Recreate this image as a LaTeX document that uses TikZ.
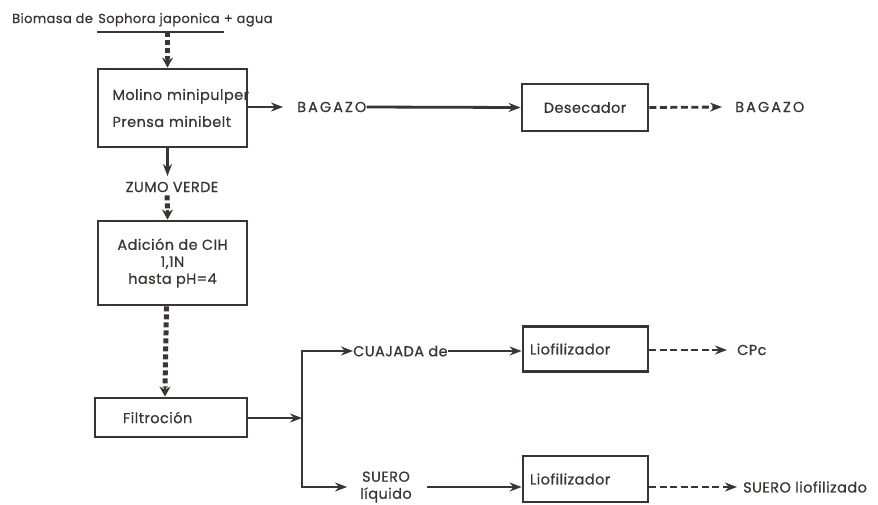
\documentclass[tikz,border=0pt]{standalone}
\usepackage{fontspec}
\setmainfont{Poppins}[LetterSpace=3,FakeBold=0.6]
\usetikzlibrary{arrows.meta,positioning}
\definecolor{ink}{HTML}{3A3432}

\begin{document}
\begin{tikzpicture}[x=1pt,y=-1pt,
  every node/.style={text=ink},
  txt/.style={inner sep=0pt, font=\fontsize{14.5}{17}\selectfont},
  head/.style={inner sep=0pt, font=\fontsize{13}{15}\selectfont},
  wide/.style={txt, font=\fontsize{14.5}{17}\selectfont\addfontfeatures{LetterSpace=14}},
  procbox/.style={draw=ink, line width=2.8pt, rectangle, inner sep=0pt,
    font=\fontsize{14.5}{17}\selectfont},
  flow/.style={draw=ink, line width=2.8pt, -{Stealth[length=12pt,width=9pt]}},
  dflow/.style={flow, dash pattern=on 7pt off 3.5pt},
  chain/.style={draw=ink, line width=5pt, dash pattern=on 5pt off 3pt},
  chainhead/.style={draw=ink, line width=2.8pt, -{Stealth[length=10pt,width=11pt]}}]

\useasboundingbox (0,0) rectangle (878,504);

% feed line
\node[head, anchor=base west] (bio) at (12,23) {Biomasa de};
\node[head, anchor=base west] (sj) at ([xshift=5pt]bio.base east) {Sophora japonica};
\node[head, anchor=base west] (agua) at ([xshift=4pt]sj.base east) {+ agua};
\draw[ink, line width=2.4pt] ([xshift=-1pt]sj.west |- 0,32) coordinate (ulA)
  -- ([xshift=4pt]sj.east |- 0,32) coordinate (ulB);

% process boxes
\node[procbox, minimum width=149pt, minimum height=78pt, text width=134pt, align=left]
  (molino) at (172.5,108) {\hspace*{7pt}\mbox{Molino minipulper}\\[10pt]\hspace*{7pt}\mbox{Prensa minibelt}};
\node[txt] (zumo) at (172,187) {ZUMO VERDE};
\node[procbox, minimum width=149pt, minimum height=84pt, align=center]
  (acido) at (172.5,263) {Adición de CIH\\1,1N\\hasta pH=4};
\node[procbox, minimum width=152pt, minimum height=39pt, text width=96pt, align=left]
  (filtro) at (171,417.5) {Filtroción};

% bagazo branch
\node[wide, anchor=west] (bag1) at (297,107) {BAGAZO};
\node[procbox, minimum width=126pt, minimum height=47pt] (desec) at (585,107.5) {Desecador};
\node[wide, anchor=west] (bag2) at (735,107) {BAGAZO};

% curd branch
\node[txt, anchor=west] (cuaj) at (353,351) {CUAJADA de};
\node[procbox, minimum width=125pt, minimum height=45pt, text width=111pt, align=left]
  (lio1) at (585.5,349) {\mbox{Liofilizador}};
\node[txt, anchor=west] (cpc) at (737,350) {CPc};

% whey branch
\node[txt, align=center] (suero) at (386,487) {SUERO\\líquido};
\node[procbox, minimum width=125pt, minimum height=46pt, text width=111pt, align=left]
  (lio2) at (585.5,479) {\mbox{Liofilizador}};
\node[txt, anchor=west] (suerol) at (743,487) {SUERO liofilizado};

\coordinate (split) at (302,418);
\coordinate (splitT) at (302,351);
\coordinate (splitB) at (302,487);

% main stream
\draw[chain] ([xshift=-5pt]molino.north |- ulA) -- ([xshift=-5pt,yshift=9pt]molino.north);
\draw[chainhead] ([xshift=-5pt,yshift=10pt]molino.north) -- ([xshift=-5pt]molino.north);

\draw[flow] ([xshift=-5pt]molino.south) -- ([xshift=-5pt]molino.south |- 0,176);
\draw[chain] ([xshift=-5pt,yshift=-3pt]zumo.south) -- ([xshift=-5pt,yshift=9pt]acido.north);
\draw[chainhead] ([xshift=-5pt,yshift=10pt]acido.north) -- ([xshift=-5pt]acido.north);

\draw[chain] ([xshift=-6pt]acido.south) -- ([xshift=-6pt,yshift=9pt]filtro.north);
\draw[chainhead] ([xshift=-6pt,yshift=10pt]filtro.north) -- ([xshift=-6pt]filtro.north);

% bagazo
\draw[flow] (molino.east |- bag1) -- ([xshift=-14pt]bag1.west);
\draw[flow] (bag1.east) -- (desec.west);
\draw[dflow] (desec.east) -- ([xshift=-13pt]bag2.west);

% separation after filtration
\draw[flow] (filtro.east |- split) -- (split);
\draw[draw=ink, line width=2.8pt] (splitT) -- (splitB);
\draw[flow] ([xshift=-1pt]splitT) -- (cuaj.west);
\draw[flow] ([xshift=-1pt]splitB) -- ([xshift=-13pt]suero.west |- splitB);
\draw[flow] ([xshift=15pt]suero.east |- splitB) -- (lio2.west |- splitB);
\draw[flow] (cuaj.east) -- (lio1.west |- cuaj.east);
\draw[dflow] (lio1.east |- cpc) -- ([xshift=-10pt]cpc.west);
\draw[dflow] (lio2.east |- suerol) -- ([xshift=-6pt]suerol.west);
\end{tikzpicture}
\end{document}
